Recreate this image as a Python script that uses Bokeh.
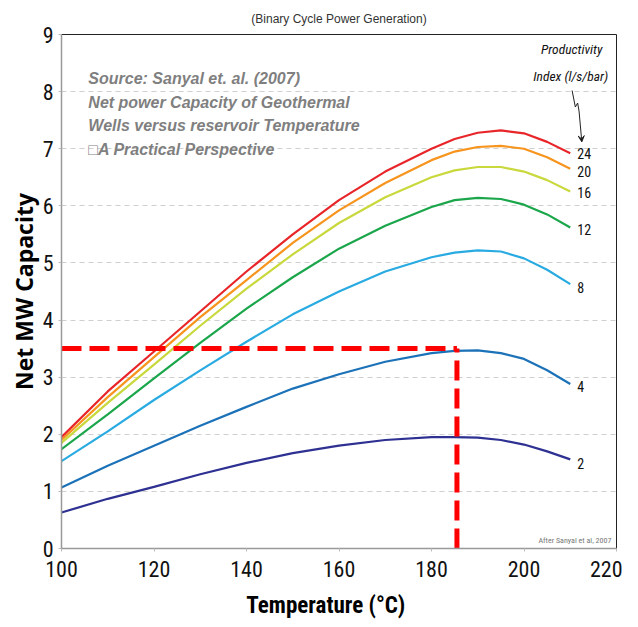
from bokeh.plotting import figure
from bokeh.models import ColumnDataSource, FixedTicker, Arrow, VeeHead
from bokeh.core.properties import value
from bokeh.embed import file_html
from bokeh.resources import INLINE

# ---- data ----
temperature = [100, 110, 120, 130, 140, 150, 160, 170, 180, 185, 190, 195, 200, 205, 210]
pi_24 = [1.95, 2.75, 3.45, 4.15, 4.85, 5.50, 6.10, 6.60, 7.00, 7.17, 7.28, 7.32, 7.27, 7.12, 6.92]
pi_20 = [1.90, 2.65, 3.35, 4.05, 4.70, 5.35, 5.92, 6.40, 6.80, 6.95, 7.03, 7.05, 7.00, 6.85, 6.65]
pi_16 = [1.85, 2.55, 3.22, 3.90, 4.55, 5.15, 5.70, 6.15, 6.50, 6.62, 6.68, 6.68, 6.60, 6.45, 6.25]
pi_12 = [1.74, 2.35, 2.98, 3.60, 4.20, 4.75, 5.25, 5.65, 5.98, 6.10, 6.14, 6.12, 6.02, 5.85, 5.62]
pi_8 = [1.53, 2.05, 2.60, 3.12, 3.62, 4.10, 4.50, 4.85, 5.10, 5.18, 5.22, 5.20, 5.08, 4.88, 4.63]
pi_4 = [1.07, 1.45, 1.80, 2.15, 2.48, 2.80, 3.05, 3.27, 3.42, 3.46, 3.47, 3.42, 3.32, 3.12, 2.88]
pi_2 = [0.63, 0.87, 1.08, 1.30, 1.50, 1.67, 1.80, 1.90, 1.95, 1.95, 1.94, 1.90, 1.82, 1.70, 1.56]

series_labels = ["24", "20", "16", "12", "8", "4", "2"]
series_values = [pi_24, pi_20, pi_16, pi_12, pi_8, pi_4, pi_2]
series_colors = ["#e8262a", "#f7941d", "#c9d83c", "#1ba64b", "#29abe2", "#1c72b8", "#2e3192"]
label_offsets = [0.0, -0.05, -0.02, -0.04, -0.06, -0.04, -0.07]

# design point
design_temp = 185.5
design_mw = 3.5

x_ticks = [100, 120, 140, 160, 180, 200, 220]
y_ticks = [0, 1, 2, 3, 4, 5, 6, 7, 8, 9]

note_lines = ["Source: Sanyal et. al. (2007)",
              "Net power Capacity of Geothermal",
              "Wells versus reservoir Temperature",
              "\u25a1A Practical Perspective"]

# squiggle pointer (annotation)
squiggle_x = [210.4, 211.1, 211.6, 211.9]
squiggle_y = [8.02, 7.73, 7.80, 7.66]

NARROW = "Liberation Sans Narrow, Roboto Condensed, Liberation Sans, sans-serif"

p = figure(width=622, height=627, output_backend="svg", toolbar_location=None,
           x_range=(100, 220), y_range=(0, 9),
           title="(Binary Cycle Power Generation)",
           min_border_left=61, min_border_right=6, min_border_top=34, min_border_bottom=79)

p.title.align = "center"
p.title.text_font = "Liberation Sans, Arial, sans-serif"
p.title.text_font_style = "normal"
p.title.text_font_size = "12px"
p.title.text_color = "#333333"
p.title.offset = 0
p.title.standoff = 17

p.outline_line_color = "#222222"
p.outline_line_width = 1
p.background_fill_color = "white"
p.border_fill_color = "white"

p.xgrid.grid_line_color = None
p.ygrid.grid_line_color = "#cfcfcf"
p.ygrid.grid_line_dash = "5 4"
p.ygrid.grid_line_width = 1

p.xaxis.ticker = FixedTicker(ticks=x_ticks)
p.yaxis.ticker = FixedTicker(ticks=y_ticks)
for ax in (p.xaxis, p.yaxis):
    ax.axis_line_color = "#999999"
    ax.axis_line_width = 1.5
    ax.major_tick_line_color = "#bbbbbb"
    ax.major_tick_in = 0
    ax.major_tick_out = 3
    ax.minor_tick_line_color = None
    ax.major_label_text_font = NARROW
    ax.major_label_text_font_size = "22px"
    ax.major_label_text_color = "#111111"
    ax.axis_label_text_color = "#000000"
    ax.axis_label_text_font_style = "bold"

p.yaxis.major_label_standoff = 5
p.xaxis.major_label_standoff = 9
p.xaxis.axis_label = "Temperature (\u00b0C)\u00a0\u00a0\u00a0\u00a0\u00a0"
p.xaxis.axis_label_text_font = NARROW
p.xaxis.axis_label_text_font_size = "23px"
p.xaxis.axis_label_standoff = 12
p.yaxis.axis_label = "Net MW Capacity"
p.yaxis.axis_label_text_font = "Open Sans, sans-serif"
p.yaxis.axis_label_text_font_size = "23px"
p.yaxis.axis_label_standoff = 0

# curves
for lab, vals, col, off in zip(series_labels, series_values, series_colors, label_offsets):
    src = ColumnDataSource(dict(x=temperature, y=vals))
    p.line("x", "y", source=src, line_color=col, line_width=2.2)
    p.text(x=[temperature[-1]], y=[vals[-1] + off], text=[lab],
           x_offset=7, text_baseline="middle", text_align="left",
           text_font=value(NARROW), text_font_size="14px", text_color="#111111")

# design point dashed lines
p.line(x=[temperature[0], design_temp], y=[design_mw, design_mw],
       line_color="#ff0000", line_width=5, line_dash="20 8")
p.line(x=[design_temp, design_temp], y=[0, design_mw],
       line_color="#ff0000", line_width=5, line_dash="20 8")

# notes
note_y = [8.23, 7.81, 7.41, 6.99]
for txt, yy in zip(note_lines, note_y):
    p.text(x=[105.8], y=[yy], text=[txt], text_baseline="middle", text_align="left",
           text_font=value("Liberation Sans, Arial, sans-serif"), text_font_size="16px",
           text_font_style="bold italic", text_color="#7f7f7f")

# productivity index header
p.text(x=[210.3, 210.1], y=[8.74, 8.27], text=["Productivity", "Index (l/s/bar)"],
       text_baseline="middle", text_align="center",
       text_font=value(NARROW), text_font_size="13.5px", text_font_style="italic",
       text_color="#111111")
p.line(x=squiggle_x, y=squiggle_y, line_color="#222222", line_width=1)
p.add_layout(Arrow(end=VeeHead(size=6, line_color="#222222", line_width=1),
                   x_start=squiggle_x[-1], y_start=squiggle_y[-1],
                   x_end=212.5, y_end=7.12, line_color="#222222", line_width=1))

p.text(x=[218.9], y=[0.14], text=["After Sanyal et al, 2007"], text_baseline="middle",
       text_align="right", text_font=value(NARROW), text_font_size="8px",
       text_color="#777777")

open("out.html", "w").write(file_html(p, INLINE))
